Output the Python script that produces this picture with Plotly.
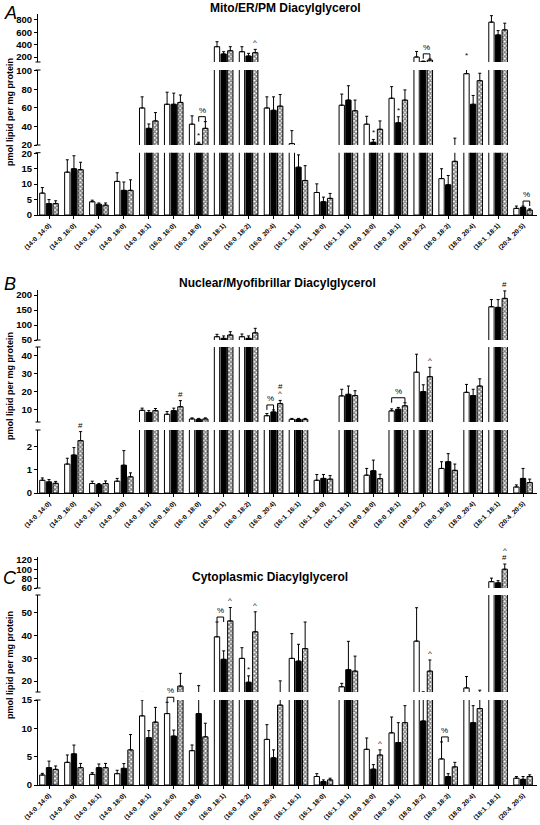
import plotly.graph_objects as go

# ---------------- data ----------------
categories = ["(14:0_14:0)", "(14:0_16:0)", "(14:0_16:1)", "(14:0_18:0)", "(14:0_18:1)",
              "(16:0_16:0)", "(16:0_18:0)", "(16:0_18:1)", "(16:0_18:2)", "(16:0_20:4)",
              "(16:1_16:1)", "(16:1_18:0)", "(16:1_18:1)", "(18:0_18:0)", "(18:0_18:1)",
              "(18:0_18:2)", "(18:0_18:3)", "(18:0_20:4)", "(18:1_18:1)", "(20:4_20:5)"]

# Panel A: Mito/ER/PM
mito_white = [7.1, 13.9, 4.3, 10.9, 60, 64, 42.5, 367, 286, 60, 21.5, 7.3, 63, 42.5, 70.5, 200, 11.8, 97, 765, 2.15]
mito_white_err = [1.8, 4.0, 0.5, 2.8, 12, 13, 9, 81, 81, 12, 14, 2.8, 12, 8.5, 12.5, 90, 3.2, 10, 105, 0.75]
mito_black = [3.7, 15.0, 3.5, 8.0, 38, 64, 21, 249, 216, 57.5, 15.5, 4.3, 68.5, 23, 44, 125, 9.8, 64, 558, 2.5]
mito_black_err = [1.3, 4.2, 0.4, 2.7, 4.7, 12, 2, 37, 43, 14.5, 4, 1.5, 15.5, 3, 6.5, 10, 3, 9.5, 70, 0.4]
mito_check = [3.7, 14.7, 3.2, 8.0, 46, 66, 38, 302, 270, 62, 11.2, 5.4, 57, 37, 68.5, 150, 17.4, 89.5, 640, 1.6]
mito_check_err = [0.9, 2.4, 0.7, 3.4, 9, 8, 7.2, 65, 54, 12.5, 4.8, 1.6, 11.5, 9, 11, 20, 10, 8, 108, 0.4]

# Panel B: Nuclear/Myofibrillar
nuc_white = [0.55, 1.25, 0.41, 0.51, 9.8, 7.6, 5.0, 61, 61, 6.8, 4.8, 0.55, 17.8, 0.77, 9.5, 31, 1.06, 19.8, 161, 0.26]
nuc_white_err = [0.1, 0.25, 0.1, 0.12, 1.2, 1.5, 0.6, 8, 9, 1.2, 0.5, 0.25, 3.7, 0.29, 1.1, 10, 0.29, 4.4, 24, 0.09]
nuc_black = [0.48, 1.64, 0.36, 1.2, 8.6, 9.6, 4.8, 55.6, 55.6, 8.9, 4.8, 0.63, 18.7, 0.96, 10.4, 20.2, 1.35, 18, 159, 0.63]
nuc_black_err = [0.1, 0.32, 0.05, 0.63, 1.0, 1.4, 0.5, 8, 8, 1.1, 0.5, 0.17, 4.6, 0.46, 1.0, 3.8, 0.35, 3.5, 26, 0.43]
nuc_check = [0.42, 2.26, 0.41, 0.7, 9.6, 11.8, 5.0, 66.7, 74, 13.5, 4.8, 0.6, 18, 0.62, 12.3, 28.5, 0.98, 23.3, 189, 0.45]
nuc_check_err = [0.08, 0.39, 0.11, 0.17, 1.2, 3.4, 0.6, 11, 15, 1.8, 0.5, 0.15, 2.7, 0.19, 1.7, 5.2, 0.27, 4, 25, 0.15]

# Panel C: Cytoplasmic
cyto_white = [1.76, 4.0, 1.88, 2.0, 12.2, 12.6, 6.06, 39.5, 30, 8.05, 30, 1.5, 17.5, 6.3, 9.2, 37.6, 4.6, 17, 73.5, 1.2]
cyto_white_err = [0.3, 1.3, 0.3, 0.6, 2.8, 2.0, 1.0, 6.5, 4.7, 2.6, 10.9, 0.5, 1.5, 2.0, 2.8, 14.7, 3.0, 5, 7.5, 0.3]
cyto_black = [3.06, 5.5, 3.06, 2.94, 8.35, 8.64, 12.6, 29.6, 19.5, 4.8, 28.8, 0.6, 25, 2.8, 7.5, 11.3, 1.5, 11, 71, 1.0]
cyto_black_err = [1.15, 1.55, 0.65, 0.85, 1.25, 1.05, 5.4, 3.7, 2.8, 1.4, 7.4, 0.3, 12.5, 0.8, 3.5, 4, 0.5, 3, 4.6, 0.5]
cyto_check = [2.76, 3.06, 3.06, 6.2, 11.1, 17.8, 8.5, 46.5, 41.7, 14.1, 34.3, 0.9, 24.4, 5.3, 11, 24.4, 3.2, 13.5, 100, 1.5]
cyto_check_err = [0.6, 0.75, 0.75, 2.7, 2.6, 5.6, 2.4, 5.9, 8.8, 6, 11.7, 0.3, 6.6, 0.9, 3, 4.9, 0.8, 2.5, 11, 0.3]

# significance marks: (category index, series index, symbols bottom->top)
mito_marks = [(6, 1, "*"), (8, 2, "^"), (13, 1, "*"), (14, 1, "*"), (17, 0, "*")]
mito_brackets = [(6, 1, 2, "%"), (15, 1, 2, "%"), (19, 1, 2, "%")]
nuc_marks = [(1, 2, "#"), (5, 2, "#"), (9, 2, "^#"), (15, 2, "^"), (18, 2, "#")]
nuc_brackets = [(9, 0, 1, "%"), (14, 0, 2, "%")]
cyto_marks = [(7, 2, "^"), (8, 1, "*"), (8, 2, "^"), (13, 2, "^"), (15, 2, "^"), (18, 2, "#^")]
cyto_brackets = [(5, 0, 1, "%"), (7, 0, 1, "%"), (16, 0, 1, "%")]

# ---------------- layout geometry ----------------
W, H = 540, 825
FONT = "Liberation Sans, Arial, sans-serif"
X_LEFT, X_RIGHT = 38, 537
GROUP0, STEP = 49, 24.95
x_range = [(X_LEFT - GROUP0) / STEP, (X_RIGHT - GROUP0) / STEP]
SLOT = 0.8 / 3

panels = [
    dict(letter="A", title="Mito/ER/PM Diacylglycerol", title_xy=(285, 8), letter_xy=(10, 13), label_y=112,
         series=[(mito_white, mito_white_err), (mito_black, mito_black_err), (mito_check, mito_check_err)],
         segs=[dict(px=(215, 152.7), rng=(0, 20.2), ticks=[0, 5, 10, 15, 20]),
               dict(px=(145, 70), rng=(20, 101), ticks=[20, 40, 60, 80, 100]),
               dict(px=(62, 14), rng=(119, 897), ticks=[200, 400, 600, 800])],
         marks=mito_marks, brackets=mito_brackets),
    dict(letter="B", title="Nuclear/Myofibrillar Diacylglycerol", title_xy=(277, 283), letter_xy=(10, 284), label_y=386,
         series=[(nuc_white, nuc_white_err), (nuc_black, nuc_black_err), (nuc_check, nuc_check_err)],
         segs=[dict(px=(493, 430), rng=(0, 2.72), ticks=[0, 1, 2]),
               dict(px=(422, 347), rng=(3.3, 45), ticks=[10, 20, 30, 40]),
               dict(px=(340, 290), rng=(50, 217), ticks=[50, 100, 150, 200])],
         marks=nuc_marks, brackets=nuc_brackets),
    dict(letter="C", title="Cytoplasmic Diacylglycerol", title_xy=(270, 577), letter_xy=(10, 578), label_y=665,
         series=[(cyto_white, cyto_white_err), (cyto_black, cyto_black_err), (cyto_check, cyto_check_err)],
         segs=[dict(px=(785, 700), rng=(0, 15), ticks=[0, 5, 10, 15]),
               dict(px=(692, 595), rng=(15.2, 57.9), ticks=[20, 30, 40, 50]),
               dict(px=(588, 557), rng=(60, 126), ticks=[60, 80, 100, 120])],
         marks=cyto_marks, brackets=cyto_brackets),
]

styles = [
    dict(color="white", line=dict(color="black", width=1)),
    dict(color="black", line=dict(color="black", width=1)),
    dict(color="white", line=dict(color="black", width=1),
         pattern=dict(shape="x", fgcolor="black", bgcolor="white", size=3, solidity=0.65)),
]


def to_px(seg, v):
    p0, p1 = seg["px"]
    r0, r1 = seg["rng"]
    return p0 + (v - r0) / (r1 - r0) * (p1 - p0)


def locate(panel, v):
    for seg in panel["segs"]:
        if v <= seg["rng"][1]:
            return to_px(seg, max(v, seg["rng"][0]))
    return panel["segs"][-1]["px"][1]


def paper_y(px):
    return 1 - px / H


fig = go.Figure()
layout = dict(width=W, height=H, margin=dict(l=0, r=0, t=0, b=0), paper_bgcolor="white",
              plot_bgcolor="white", barmode="group", bargap=0.2, bargroupgap=0.2,
              showlegend=False, font=dict(family=FONT, color="black"))
annotations = []
shapes = []
xs = list(range(len(categories)))
black_line = dict(color="black", width=1)

for p, panel in enumerate(panels):
    xname = "x" if p == 0 else f"x{p + 1}"
    xkey = "xaxis" if p == 0 else f"xaxis{p + 1}"
    for s, seg in enumerate(panel["segs"]):
        k = p * 3 + s + 1
        yname = "y" if k == 1 else f"y{k}"
        ykey = "yaxis" if k == 1 else f"yaxis{k}"
        for i, (vals, errs) in enumerate(panel["series"]):
            fig.add_trace(go.Bar(
                x=xs, y=vals, xaxis=xname, yaxis=yname, offsetgroup=str(i),
                marker=styles[i],
                error_y=dict(type="data", array=errs, arrayminus=[0] * len(errs), symmetric=False,
                             color="black", thickness=1, width=1.5),
                hoverinfo="skip"))
        layout[ykey] = dict(domain=[paper_y(seg["px"][0]), paper_y(seg["px"][1])],
                            range=list(seg["rng"]), anchor=xname, tickvals=seg["ticks"],
                            showline=True, linecolor="black", linewidth=1, ticks="outside",
                            ticklen=3, tickwidth=1, tickcolor="black", showgrid=False,
                            zeroline=False, automargin=False, fixedrange=True,
                            tickfont=dict(family=FONT, size=9.5, weight="bold"))
        # axis-break caps at the segment ends
        ends = []
        if s > 0:
            ends.append(seg["px"][0])
        if s < len(panel["segs"]) - 1:
            ends.append(seg["px"][1])
        for e in ends:
            shapes.append(dict(type="line", xref="paper", yref="paper", x0=(X_LEFT - 2.5) / W,
                               x1=(X_LEFT + 2.5) / W, y0=paper_y(e), y1=paper_y(e), line=black_line))
    bottom_y = "y" if p == 0 else f"y{p * 3 + 1}"
    layout[xkey] = dict(domain=[X_LEFT / W, X_RIGHT / W], range=x_range, anchor=bottom_y,
                        tickvals=xs, ticktext=categories, tickangle=-45, showline=True,
                        linecolor="black", linewidth=1, ticks="outside", ticklen=3,
                        tickcolor="black", showgrid=False, zeroline=False, automargin=False,
                        fixedrange=True, tickfont=dict(family=FONT, size=6.6, weight="bold"))

    # titles / labels
    tx, ty = panel["title_xy"]
    annotations.append(dict(x=tx / W, y=paper_y(ty), xref="paper", yref="paper", text=panel["title"],
                            showarrow=False, xanchor="center", yanchor="middle",
                            font=dict(family=FONT, size=12, weight="bold")))
    lx, ly = panel["letter_xy"]
    annotations.append(dict(x=lx / W, y=paper_y(ly), xref="paper", yref="paper", text=panel["letter"],
                            showarrow=False, xanchor="center", yanchor="middle",
                            font=dict(family=FONT, size=18, style="italic")))
    annotations.append(dict(x=10 / W, y=paper_y(panel["label_y"]), xref="paper", yref="paper",
                            text="pmol lipid per mg protein", textangle=-90, showarrow=False,
                            xanchor="center", yanchor="middle",
                            font=dict(family=FONT, size=9, weight="bold")))

    # significance symbols
    for (c, si, syms) in panel["marks"]:
        vals, errs = panel["series"][si]
        top_px = locate(panel, vals[c] + errs[c])
        for j, sym in enumerate(syms):
            annotations.append(dict(x=c + (si - 1) * SLOT, y=paper_y(top_px - 1 - j * 7), xref=xname,
                                    yref="paper", text=sym, showarrow=False, xanchor="center",
                                    yanchor="bottom", font=dict(family=FONT, size=8, color="black"),
                                    borderpad=0))
    for (c, s1, s2, sym) in panel["brackets"]:
        t1 = locate(panel, panel["series"][s1][0][c] + panel["series"][s1][1][c])
        t2 = locate(panel, panel["series"][s2][0][c] + panel["series"][s2][1][c])
        yb = min(t1, t2) - 5
        xa = c + (s1 - 1) * SLOT
        xb = c + (s2 - 1) * SLOT
        shapes.append(dict(type="line", xref=xname, yref="paper", x0=xa, x1=xb,
                           y0=paper_y(yb), y1=paper_y(yb), line=black_line))
        shapes.append(dict(type="line", xref=xname, yref="paper", x0=xa, x1=xa,
                           y0=paper_y(yb), y1=paper_y(yb + 5), line=black_line))
        shapes.append(dict(type="line", xref=xname, yref="paper", x0=xb, x1=xb,
                           y0=paper_y(yb), y1=paper_y(yb + 5), line=black_line))
        annotations.append(dict(x=(xa + xb) / 2, y=paper_y(yb - 1), xref=xname, yref="paper",
                                text=sym, showarrow=False, xanchor="center", yanchor="bottom",
                                font=dict(family=FONT, size=8, color="black"), borderpad=0))

layout["annotations"] = annotations
layout["shapes"] = shapes
fig.update_layout(**layout)
fig.write_html("out.html", config={"displayModeBar": False, "staticPlot": True},
               post_script="document.body.style.margin='0px';")
